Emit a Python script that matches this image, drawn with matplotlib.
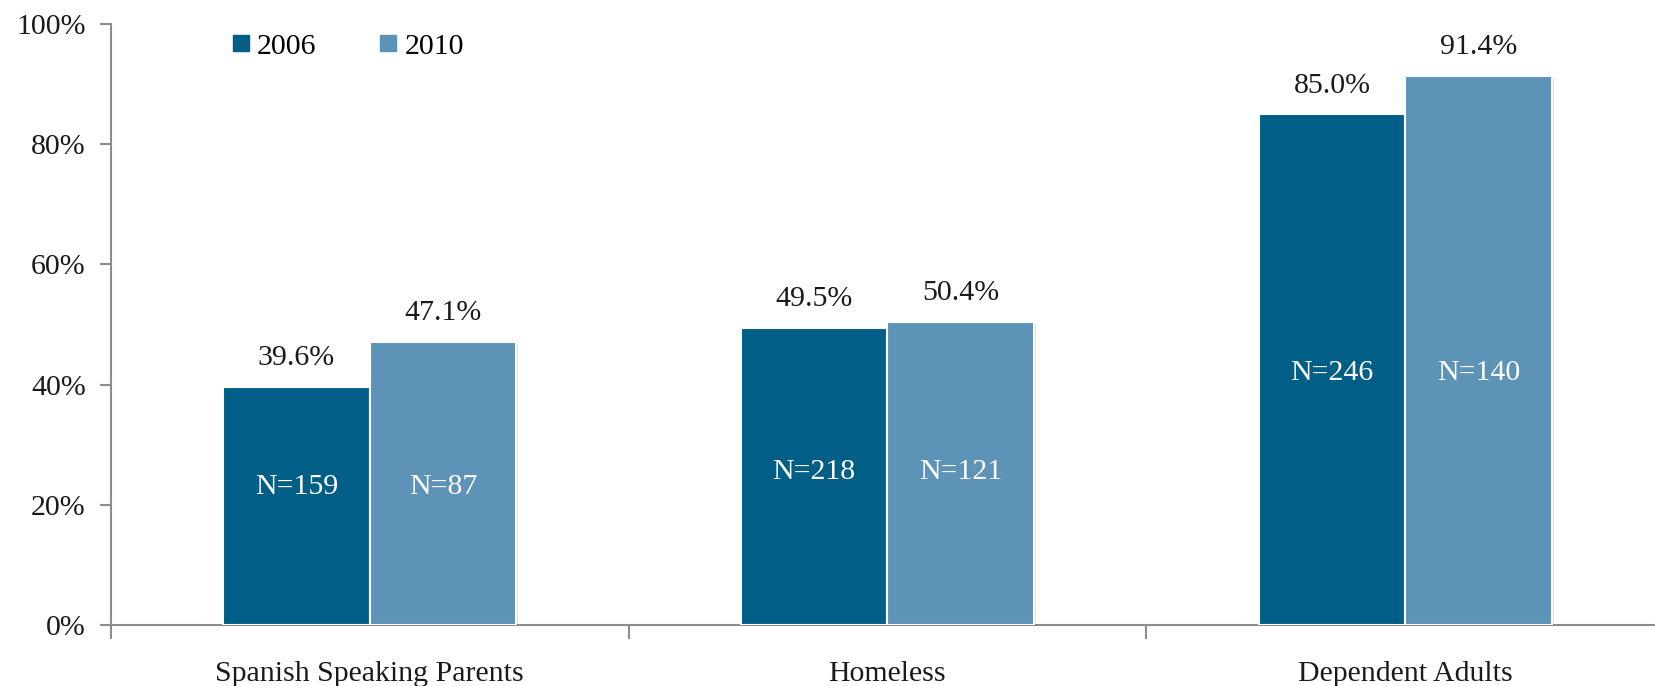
import matplotlib
matplotlib.use("Agg")
import matplotlib.pyplot as plt
import matplotlib.patheffects as pe
from matplotlib.lines import Line2D
import numpy as np

categories = ["Spanish Speaking Parents", "Homeless", "Dependent Adults"]
series_names = ["2006", "2010"]
values_2006 = [39.6, 49.5, 85.0]
values_2010 = [47.1, 50.4, 91.4]
n_2006 = ["N=159", "N=218", "N=246"]
n_2010 = ["N=87", "N=121", "N=140"]
n_label_y = [23, 25.5, 42]
yticks = [0, 20, 40, 60, 80, 100]
ytick_labels = ["0%", "20%", "40%", "60%", "80%", "100%"]

c_dark = "#005E87"
c_light = "#5E93B8"
spine_c = "#8C8C8C"

plt.rcParams['font.family'] = ['Liberation Serif', 'DejaVu Serif']
FS = 21.5

fig = plt.figure(figsize=(16.55, 6.86), dpi=100)
ax = fig.add_axes([0.0669, 0.0892, 0.9386, 0.8754])

x = np.arange(len(categories))
w = 0.283
shadow = [pe.SimplePatchShadow(offset=(1.5, -1.5), alpha=0.12, shadow_rgbFace="#000000"), pe.Normal()]
b1 = ax.bar(x - w/2, values_2006, w, color=c_dark, edgecolor="white", linewidth=1.5, zorder=3)
b2 = ax.bar(x + w/2, values_2010, w, color=c_light, edgecolor="white", linewidth=1.5, zorder=3)
for b in list(b1) + list(b2):
    b.set_path_effects(shadow)

for i in range(len(categories)):
    ax.text(x[i] - w/2, values_2006[i] + 4.8, f"{values_2006[i]:.1f}%", ha="center", va="center", fontsize=FS, color="#1a1a1a", zorder=4)
    ax.text(x[i] + w/2, values_2010[i] + 4.8, f"{values_2010[i]:.1f}%", ha="center", va="center", fontsize=FS, color="#1a1a1a", zorder=4)
    ax.text(x[i] - w/2, n_label_y[i], n_2006[i], ha="center", va="center", fontsize=FS, color="white", zorder=4)
    ax.text(x[i] + w/2, n_label_y[i], n_2010[i], ha="center", va="center", fontsize=FS, color="white", zorder=4)

ax.set_xlim(-0.5, 2.5)
ax.set_ylim(0, 100)
ax.set_yticks(yticks)
ax.set_yticklabels(ytick_labels, fontsize=FS, color="#1a1a1a")
ax.set_xticks(x)
ax.set_xticklabels(categories, fontsize=FS, color="#1a1a1a")
ax.set_xticks([-0.5, 0.5, 1.5, 2.5], minor=True)
ax.tick_params(axis="x", which="major", length=0, pad=26)
ax.tick_params(axis="x", which="minor", length=10, width=1.5, color=spine_c, direction="out")
ax.tick_params(axis="y", which="major", length=8, width=1.5, color=spine_c, direction="out", pad=10)

for s in ["top", "right"]:
    ax.spines[s].set_visible(False)
for s in ["left", "bottom"]:
    ax.spines[s].set_color(spine_c)
    ax.spines[s].set_linewidth(1.5)
ax.spines["bottom"].set_clip_on(False)

handles = [Line2D([], [], marker="s", linestyle="none", markersize=11, color=c) for c in (c_dark, c_light)]
leg = ax.legend(handles, series_names, loc="upper left", bbox_to_anchor=(202/1655, 1 - 6/686),
                bbox_transform=fig.transFigure, ncol=2, frameon=False, fontsize=FS,
                handletextpad=0.15, columnspacing=2.0, handlelength=0.8)

fig.savefig("out.png", dpi=100)
